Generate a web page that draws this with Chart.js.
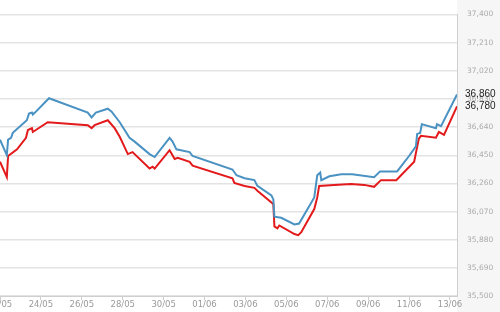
<!DOCTYPE html>
<html>
<head>
<meta charset="utf-8">
<script src="https://cdn.jsdelivr.net/npm/chart.js@4/dist/chart.umd.min.js"></script>
<style>
  html, body { margin: 0; padding: 0; width: 500px; height: 312px; overflow: hidden; background: #fff; }
  #wrap { position: absolute; left: -40px; top: 0; width: 540px; height: 312px; }
</style>
</head>
<body>
<div id="wrap"><canvas id="c" width="540" height="312"></canvas></div>
<script>
const YEAR = 2018;
const xTickLabels = ['22/05','24/05','26/05','28/05','30/05','01/06','03/06','05/06','07/06','09/06','11/06','13/06'];
const yTicks = [35500, 35690, 35880, 36070, 36260, 36450, 36640, 36830, 37020, 37210, 37400];

const blueTimes = ["22/05 00:00","22/05 08:00","22/05 09:30","22/05 13:00","22/05 15:00","23/05 07:30","23/05 10:00","23/05 13:30","23/05 14:30","23/05 17:00","24/05 09:30","26/05 07:00","26/05 11:30","26/05 16:30","27/05 06:30","27/05 11:00","27/05 20:30","28/05 08:00","28/05 14:00","29/05 07:30","29/05 13:30","30/05 07:00","30/05 10:30","30/05 15:00","31/05 06:30","31/05 10:00","02/06 08:45","02/06 13:30","02/06 23:00","03/06 10:30","03/06 14:00","04/06 06:30","04/06 08:45","04/06 10:00","04/06 18:00","05/06 09:30","05/06 15:00","06/06 08:45","06/06 12:15","06/06 15:45","06/06 17:00","07/06 02:30","07/06 16:30","08/06 05:15","09/06 07:00","09/06 14:00","10/06 10:00","11/06 00:00","11/06 08:00","11/06 09:30","11/06 13:00","11/06 15:00","12/06 07:30","12/06 08:45","12/06 13:30","13/06 08:15"];
const blueValues = [36555,36451,36555,36568,36601,36686,36731,36738,36725,36738,36835,36738,36705,36738,36764,36744,36673,36568,36542,36458,36438,36568,36542,36490,36471,36445,36354,36315,36295,36282,36243,36178,36152,36035,36028,35983,35989,36165,36315,36334,36282,36308,36321,36321,36302,36341,36341,36445,36510,36594,36601,36660,36633,36660,36646,36860];

const redTimes = ["22/05 00:00","22/05 08:00","22/05 09:30","22/05 20:00","23/05 06:30","23/05 08:45","23/05 13:30","23/05 14:30","24/05 08:00","26/05 07:00","26/05 11:30","26/05 15:00","27/05 06:30","27/05 14:30","27/05 20:30","28/05 06:00","28/05 11:30","29/05 07:30","29/05 11:00","29/05 13:30","30/05 07:00","30/05 13:00","30/05 16:30","31/05 06:30","31/05 10:00","02/06 08:45","02/06 11:00","02/06 23:00","03/06 10:30","03/06 14:00","04/06 06:30","04/06 08:45","04/06 10:00","04/06 13:30","04/06 15:45","05/06 09:30","05/06 14:00","05/06 17:30","06/06 08:45","06/06 12:15","06/06 14:30","07/06 08:00","08/06 04:00","08/06 19:30","09/06 07:00","09/06 15:00","10/06 09:00","11/06 06:00","11/06 08:00","11/06 11:30","11/06 14:00","12/06 07:30","12/06 11:00","12/06 17:00","13/06 08:15"];
const redValues = [36406,36302,36445,36490,36568,36620,36633,36607,36673,36653,36633,36653,36686,36633,36575,36458,36471,36360,36373,36360,36484,36425,36432,36406,36380,36295,36263,36243,36230,36211,36132,36119,35970,35957,35976,35918,35911,35931,36087,36165,36243,36250,36256,36250,36237,36282,36282,36406,36464,36562,36581,36568,36607,36588,36780];

function parseT(s) {
  const [d, t] = s.split(' ');
  const [dd, mm] = d.split('/').map(Number);
  const [hh, mi] = (t || '00:00').split(':').map(Number);
  return Date.UTC(YEAR, mm - 1, dd, hh, mi);
}
function fmtNum(v) { return v.toLocaleString('en-US'); }
function fmtDate(ms) {
  const d = new Date(ms);
  return String(d.getUTCDate()).padStart(2, '0') + '/' + String(d.getUTCMonth() + 1).padStart(2, '0');
}
const toPts = (ts, vs) => ts.map((t, i) => ({ x: parseT(t), y: vs[i] }));

const panelPlugin = {
  id: 'panel',
  beforeDraw(chart) {
    const { ctx, chartArea, width, height } = chart;
    ctx.save();
    ctx.fillStyle = '#f6f6f6';
    ctx.fillRect(chartArea.right, 0, width - chartArea.right, height);
    ctx.restore();
  },
  afterDraw(chart) {
    const { ctx, chartArea } = chart;
    const ys = chart.scales.y;
    ctx.save();
    ctx.font = '10px "Liberation Sans", Arial, sans-serif';
    ctx.fillStyle = '#222';
    ctx.textBaseline = 'middle';
    ctx.textAlign = 'left';
    chart.data.datasets.forEach(ds => {
      const last = ds.data[ds.data.length - 1].y;
      ctx.fillText(fmtNum(last), chartArea.right + 8, ys.getPixelForValue(last));
    });
    ctx.restore();
  }
};

new Chart(document.getElementById('c'), {
  type: 'line',
  data: {
    datasets: [
      { data: toPts(blueTimes, blueValues), borderColor: '#4a92c2', borderWidth: 2, pointRadius: 0, tension: 0, fill: false },
      { data: toPts(redTimes, redValues), borderColor: '#e31a1c', borderWidth: 2, pointRadius: 0, tension: 0, fill: false }
    ]
  },
  options: {
    responsive: false,
    animation: false,
    devicePixelRatio: 1,
    layout: { padding: { left: 40, top: 5, right: 0, bottom: 0 } },
    plugins: { legend: { display: false }, tooltip: { enabled: false } },
    scales: {
      x: {
        type: 'linear',
        min: parseT('22/05 00:00'),
        max: parseT(blueTimes[blueTimes.length - 1]),
        afterBuildTicks: s => { s.ticks = xTickLabels.map(l => ({ value: parseT(l + ' 00:00') })); },
        afterFit: s => { s.height = 16; },
        grid: { drawOnChartArea: false, drawTicks: true, tickLength: 4, color: '#cfcfcf' },
        border: { display: true, color: '#cfcfcf', width: 1 },
        ticks: {
          autoSkip: false, maxRotation: 0, padding: 0,
          color: '#9a9a9a',
          font: { family: '"DejaVu Sans", Verdana, sans-serif', size: 8.5 },
          callback: v => fmtDate(v)
        }
      },
      y: {
        position: 'right',
        min: 35500, max: 37400,
        afterBuildTicks: s => { s.ticks = yTicks.map(v => ({ value: v })); },
        afterFit: s => { s.width = 43; },
        grid: { color: '#e3e3e3', lineWidth: 1.5, drawTicks: false },
        border: { display: true, color: '#cfcfcf', width: 1 },
        ticks: {
          padding: 10,
          color: '#aaaaaa',
          font: { family: '"DejaVu Sans", Verdana, sans-serif', size: 7.5 },
          callback: v => fmtNum(v)
        }
      }
    }
  },
  plugins: [panelPlugin]
});
</script>
</body>
</html>
